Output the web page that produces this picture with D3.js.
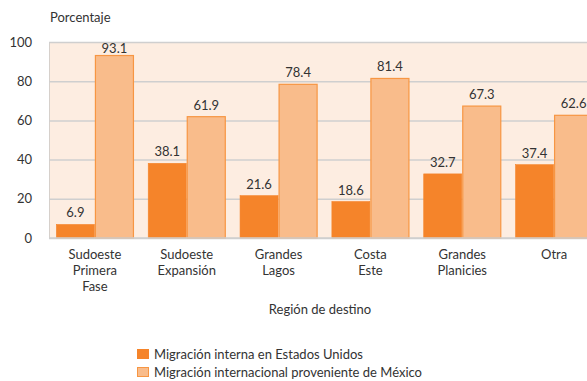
<!DOCTYPE html>
<html>
<head>
<meta charset="utf-8">
<script src="https://cdn.jsdelivr.net/npm/d3@7"></script>
<style>
  html, body { margin: 0; padding: 0; background: #fff; }
  svg text { font-family: Lato, "Open Sans", sans-serif; fill: #333; }
</style>
</head>
<body>
<svg id="chart" width="587" height="381"></svg>
<script>
// Regions of destination (multi-line labels)
const categories = [
  ["Sudoeste", "Primera", "Fase"],
  ["Sudoeste", "Expansión"],
  ["Grandes", "Lagos"],
  ["Costa", "Este"],
  ["Grandes", "Planicies"],
  ["Otra"]
];
const seriesNames = [
  "Migración interna en Estados Unidos",
  "Migración internacional proveniente de México"
];
const internalValues = [6.9, 38.1, 21.6, 18.6, 32.7, 37.4];
const mexicoValues = [93.1, 61.9, 78.4, 81.4, 67.3, 62.6];
const yTicks = [0, 20, 40, 60, 80, 100];

const colors = ["#f5842a", "#f9bc8b"];
const strokes = ["#f5842a", "#f79643"];

const svg = d3.select("#chart");
const plot = { left: 49, right: 587, top: 42, bottom: 238 };

const keys = categories.map((c, i) => "c" + i);
const x = d3.scaleBand().domain(keys).range([plot.left, 600])
  .paddingInner(0.15).paddingOuter(0.075);
const xs = d3.scaleBand().domain([0, 1]).range([0, x.bandwidth()]);
const y = d3.scaleLinear().domain([0, 100]).range([plot.bottom, plot.top]);

// plot background
svg.append("rect")
  .attr("x", plot.left).attr("y", plot.top)
  .attr("width", plot.right - plot.left).attr("height", plot.bottom - plot.top)
  .attr("fill", "#fdede1");
svg.append("line")
  .attr("x1", plot.left + 0.5).attr("x2", plot.left + 0.5)
  .attr("y1", plot.top).attr("y2", plot.bottom)
  .attr("stroke", "#d6d0cb").attr("stroke-width", 1);

// gridlines and y tick labels
const yAxis = d3.axisLeft(y).tickValues(yTicks).tickSize(-(plot.right - plot.left)).tickPadding(17);
const gy = svg.append("g").attr("transform", `translate(${plot.left},0)`).call(yAxis);
gy.select(".domain").remove();
gy.selectAll(".tick line").attr("stroke", "#cfcfcf").attr("stroke-width", 1.5);
gy.selectAll(".tick text").attr("font-size", 13).attr("fill", "#333")
  .style("font-family", "Lato, 'Open Sans', sans-serif");

svg.append("text").attr("x", 50).attr("y", 22).attr("font-size", 13).text("Porcentaje");

// bars
const data = keys.map((k, i) => ({ k, vals: [internalValues[i], mexicoValues[i]] }));
const groups = svg.append("g").selectAll("g").data(data).join("g")
  .attr("transform", d => `translate(${x(d.k)},0)`);

groups.selectAll("rect").data(d => d.vals.map((v, j) => ({ v, j }))).join("rect")
  .attr("x", d => xs(d.j) + 0.5)
  .attr("y", d => y(d.v))
  .attr("width", xs.bandwidth() - 1)
  .attr("height", d => y(0) - y(d.v))
  .attr("fill", d => colors[d.j])
  .attr("stroke", d => strokes[d.j])
  .attr("stroke-width", d => d.j === 1 ? 1.2 : 0.6);

groups.selectAll("text.val").data(d => d.vals.map((v, j) => ({ v, j }))).join("text")
  .attr("class", "val")
  .attr("x", d => xs(d.j) + xs.bandwidth() / 2)
  .attr("y", d => Math.max(y(d.v) - 7, y(100) + 11))
  .attr("text-anchor", "middle").attr("font-size", 13)
  .text(d => d3.format(".1f")(d.v));

// x axis baseline
svg.append("line")
  .attr("x1", plot.left).attr("x2", plot.right)
  .attr("y1", plot.bottom).attr("y2", plot.bottom)
  .attr("stroke", "#cfcfcf").attr("stroke-width", 1.5);

// category labels
const catLabels = svg.append("g").selectAll("text").data(categories).join("text")
  .attr("x", (d, i) => x(keys[i]) + x.bandwidth() / 2)
  .attr("y", 259)
  .attr("text-anchor", "middle").attr("font-size", 13);
catLabels.selectAll("tspan").data(d => d).join("tspan")
  .attr("x", function () { return d3.select(this.parentNode).attr("x"); })
  .attr("dy", (d, i) => i === 0 ? 0 : 16)
  .text(d => d);

svg.append("text").attr("x", 320).attr("y", 314).attr("text-anchor", "middle")
  .attr("font-size", 13).text("Región de destino");

// legend
const legend = svg.append("g").selectAll("g").data(seriesNames).join("g")
  .attr("transform", (d, i) => `translate(137,${349 + i * 18})`);
legend.append("rect").attr("x", 0.5).attr("y", 0.5).attr("width", 11).attr("height", 9)
  .attr("fill", (d, i) => colors[i]).attr("stroke", (d, i) => strokes[i]).attr("stroke-width", 1);
legend.append("text").attr("x", 17).attr("y", 9.5).attr("font-size", 13).text(d => d);
</script>
</body>
</html>
